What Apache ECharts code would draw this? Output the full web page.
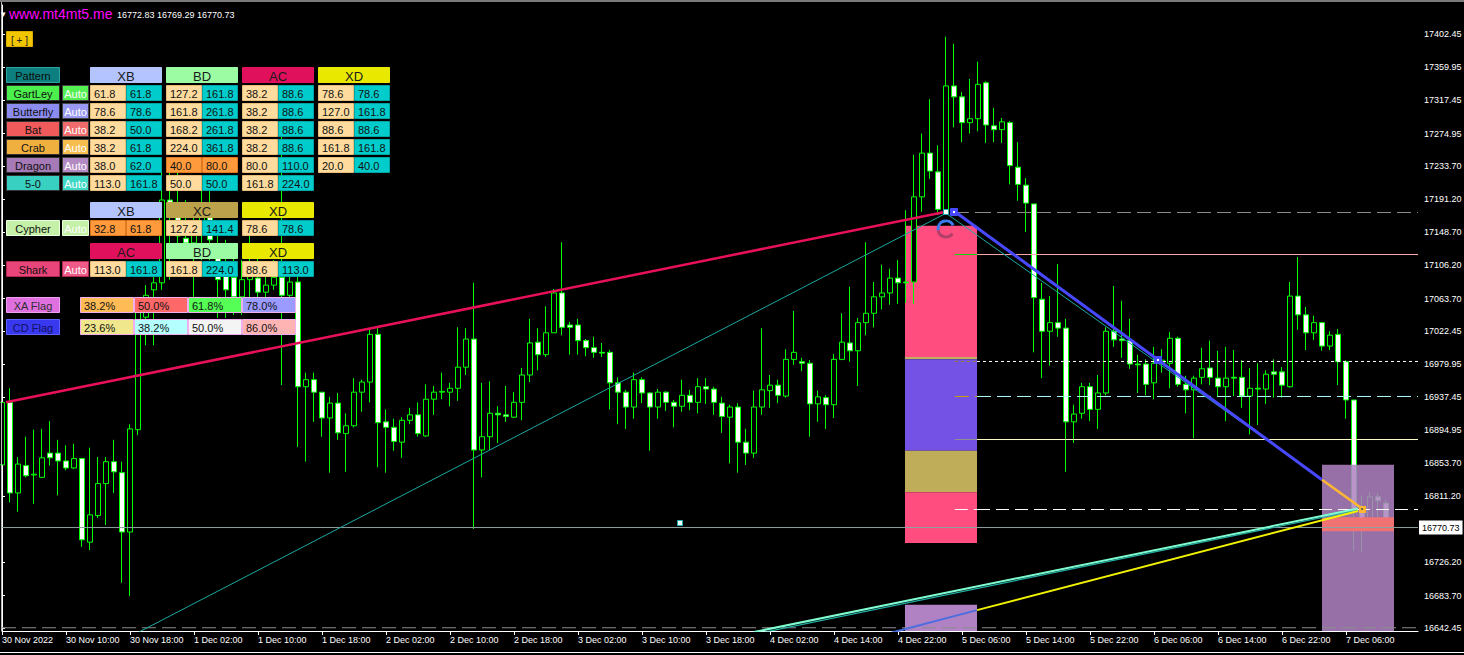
<!DOCTYPE html>
<html><head><meta charset="utf-8">
<script src="https://cdn.jsdelivr.net/npm/echarts@6/dist/echarts.min.js"></script>
<style>html,body{margin:0;padding:0;background:#000;overflow:hidden}#c{width:1464px;height:655px}</style>
</head><body><div id="c"></div>
<script>
// ================= DATA =================
const barCount = 178;
const categories = Array.from({length: barCount}, (_, i) => 'bar' + i);
const xTickBars = [0,8,16,24,32,40,48,56,64,72,80,88,96,104,112,120,128,136,144,152,160,168];
const xTickLabels = ['30 Nov 2022','30 Nov 10:00','30 Nov 18:00','1 Dec 02:00','1 Dec 10:00','1 Dec 18:00',
  '2 Dec 02:00','2 Dec 10:00','2 Dec 18:00','3 Dec 02:00','3 Dec 10:00','3 Dec 18:00','4 Dec 02:00',
  '4 Dec 14:00','4 Dec 22:00','5 Dec 06:00','5 Dec 14:00','5 Dec 22:00','6 Dec 06:00','6 Dec 14:00',
  '6 Dec 22:00','7 Dec 06:00'];
const yTickValues = [17402.45,17359.95,17317.45,17274.95,17233.70,17191.20,17148.70,17106.20,17063.70,
  17022.45,16979.95,16937.45,16894.95,16853.70,16811.20,16726.20,16683.70,16642.45];
const yMin = 16638.3, yMax = 17439.6;
const captionPrices = [16772.83, 16769.29, 16770.73];

const candleOpen = [16851,16931,16815,16850,16838,16835,16866,16866,16856,16847,16859,16752,16786,16827,16855,16841,16765,16896,17040,17075,
 17084,17190,17171,17141,17135,17152,17171,17126,17100,17091,17066,17088,17090,17072,17081,17091,17068,17085,16951,16960,
 16944,16911,16930,16891,16901,16944,16957,17018,16906,16899,16880,16908,16915,16888,16935,16944,16944,16949,16976,17012,
 16870,16887,16917,16915,16912,16931,16966,17008,16992,17020,17071,17030,17030,17010,17001,16995,16995,16956,16944,16925,
 16960,16943,16925,16944,16931,16926,16940,16931,16951,16948,16930,16912,16925,16880,16866,16925,16946,16953,16939,16986,
 16983,16981,16929,16937,16928,16986,17007,16997,17033,17045,17066,17071,17090,17085,17085,17194,17250,17226,17177,17336,
 17322,17289,17294,17340,17285,17280,17289,17232,17209,17185,17063,17022,17033,17026,16906,16917,16951,16922,16943,17022,
 17012,17010,16980,16980,16956,16981,16981,17013,16954,16947,16963,16975,16962,16951,16963,16963,16939,16949,16948,16970,
 16970,16951,17067,17043,17020,17033,17003,17018,16983,16934,16793,16774,16810,16802];
const candleHigh = [17049,16949,16861,16887,16896,16897,16907,16883,16876,16878,16860,16873,16861,16861,16883,16855,16903,17062,17081,17100,
 17237,17228,17235,17190,17177,17216,17203,17164,17139,17126,17113,17152,17126,17100,17113,17276,17100,17107,16969,16969,
 16944,16938,16943,16917,16962,16960,17026,17026,16922,16910,16912,16924,16931,16954,16952,16969,16956,17027,17026,17084,
 16956,16958,16926,16952,16944,16975,17038,17026,17054,17076,17136,17034,17038,17012,17015,17007,16998,16963,16947,16969,
 16963,16944,16948,16945,16934,16960,16947,16962,16962,16951,16938,16928,16930,16897,16946,17026,16966,16960,16999,17048,
 16988,16985,16946,16940,16993,17045,17079,17039,17136,17085,17107,17102,17113,17177,17248,17275,17319,17260,17399,17390,
 17328,17345,17367,17342,17308,17295,17291,17264,17218,17185,17084,17067,17108,17038,16928,16956,16956,16966,17027,17080,
 17061,17038,16992,16986,17002,16999,17021,17015,16965,16965,17001,17010,16997,17002,16998,16985,16975,16981,16972,16986,
 16976,17085,17117,17053,17042,17034,17022,17025,16985,16934,16812,16816,16815,16806];
const candleLow = [16844,16803,16791,16835,16801,16834,16850,16812,16844,16846,16746,16742,16783,16774,16815,16700,16683,16889,17004,17004,
 17075,17088,17132,17126,17066,17113,17113,17039,17039,17043,17043,17066,17062,17062,17075,16953,17066,16874,16855,16906,
 16887,16841,16883,16842,16899,16919,16931,16848,16841,16869,16860,16903,16887,16887,16915,16935,16926,16933,16966,16769,
 16835,16870,16879,16906,16911,16908,16957,16972,16989,17020,17017,16992,16992,16990,16988,16989,16922,16903,16897,16910,
 16930,16869,16910,16920,16899,16919,16921,16917,16929,16915,16892,16853,16841,16851,16860,16915,16924,16930,16937,16979,
 16971,16887,16906,16897,16911,16985,16983,16952,17017,17027,17050,17056,17057,17058,17057,17175,17217,17171,17175,17283,
 17264,17275,17278,17263,17264,17263,17210,17189,17149,16995,16962,16978,17015,16842,16879,16910,16907,16897,16940,17002,
 16988,16974,16943,16940,16935,16969,16949,16951,16917,16885,16954,16953,16938,16907,16939,16924,16890,16902,16929,16937,
 16937,16950,17024,16998,17011,16997,16998,16953,16910,16741,16739,16771,16770,16768];
const candleClose = [16931,16815,16852,16837,16839,16860,16860,16856,16847,16859,16755,16787,16827,16855,16842,16765,16897,17049,17068,17084,
 17190,17177,17144,17135,17152,17171,17139,17088,17075,17066,17088,17107,17072,17081,17091,17068,17085,16951,16960,16944,
 16911,16930,16892,16901,16944,16957,17018,16905,16899,16881,16908,16915,16891,16935,16944,16945,16949,16976,17012,16870,
 16887,16917,16915,16913,16931,16966,17007,16992,17020,17071,17027,17027,17010,17001,16995,16994,16956,16944,16925,16960,
 16943,16925,16944,16931,16926,16940,16931,16951,16948,16931,16913,16925,16880,16866,16925,16947,16953,16940,16986,16995,
 16981,16929,16938,16928,16986,17008,16997,17033,17045,17066,17071,17090,17084,17084,17194,17250,17227,17178,17336,17322,
 17289,17294,17338,17286,17280,17290,17234,17210,17186,17065,17022,17033,17026,16906,16916,16951,16922,16943,17022,17011,
 17010,16980,16979,16954,16981,16985,17013,16954,16947,16962,16974,16963,16951,16962,16962,16939,16949,16948,16967,16967,
 16953,17067,17043,17020,17033,17003,17017,16983,16934,16793,16774,16810,16805,16770.73];
const bidPrice = 16770.73;
const floorLevel = 16642.45;

// pattern zones (bar-index span, price span)
const zoneStart = [112.875,112.875,112.875,112.875,112.875,112.875,165,165];
const zoneEnd   = [121.875,121.875,121.875,121.875,121.875,121.875,174,174];
const zoneLow   = [16989,16986,16869,16816,16751,yMin,yMin,16766];
const zoneHigh  = [17157,16989,16986,16869,16816,16672,16851,16784];

// horizontal levels of the detected pattern
const levelPrices = [17174.0,17120.2,16983.3,16938.5,16883.4,16793.8];
const levelFromBar = 119.1, levelSplitBar = 121.875, levelToBar = 177;

// trend lines (bar index, price)
const crimsonLine = [[0.5,16931],[118,17175]];
const tealUpLine = [[16,16631],[118,17173]];
const tealDownLine = [[118,17173],[160,16869]];
const blueDownLine = [[119,17176],[165,16832]];
const blueTailLine = [[165,16832],[170,16795]];
const aquaLine = [[94,16637],[169.5,16795]];
const aquaShadowLine = [[94,16634],[169.5,16793]];
const yellowHeadLine = [[110,16633],[121.875,16665]];
const yellowLine = [[121.875,16665],[169.5,16792]];
const pointMarkers = [[118,17175],[119,17175],[144.5,16985],[170,16794],[84.7,16777]];
const arcCenter = [118,17153];

// pattern table
const patternNames = ['GartLey','Butterfly','Bat','Crab','Dragon','5-0'];
const xbRange = [[61.8,61.8],[78.6,78.6],[38.2,50.0],[38.2,61.8],[38.0,62.0],[113.0,161.8]];
const bdRange = [[127.2,161.8],[161.8,261.8],[168.2,261.8],[224.0,361.8],[40.0,80.0],[50.0,50.0]];
const acRange = [[38.2,88.6],[38.2,88.6],[38.2,88.6],[38.2,88.6],[80.0,110.0],[161.8,224.0]];
const xdRange = [[78.6,78.6],[127.0,161.8],[88.6,88.6],[161.8,161.8],[20.0,40.0],null];
const cypherXB = [32.8,61.8], cypherXC = [127.2,141.4], cypherXD = [78.6,78.6];
const sharkAC = [113.0,161.8], sharkBD = [161.8,224.0], sharkXD = [88.6,113.0];
const xaFlagLevels = [38.2,50.0,61.8,78.0];
const cdFlagLevels = [23.6,38.2,50.0,86.0];

// ================= STYLE =================
const FONT = '"Liberation Sans", Arial, sans-serif';
const zoneColors = ['#ff4d80','#c4ad5c','#7452e6','#bfad5a','#ff4d80','#b082c4','#b082c4','#f07272'];
const zoneZ = [1,1,1,1,1,1,3,3];
const zoneOpacity = [1,1,1,1,1,1,0.86,1];
const levelHeadColor = ['#8c8c8c','#00e000','#a08020','#c8a000','#909090','#ffffff'];
const levelMainColor = ['#8c8c8c','#ffa8a8','#ffffff','#b0ffff','#ffffc8','#ffffff'];
const levelType = [[14,6],'solid',[3,3],[14,6],'solid',[13,6]];
const markerFill = ['#ffffff','#4848ff','#4848ff','#ffb830','#ffffff'];
const markerStroke = ['#20b0b0','#4848ff','#4848ff','#ffb830','#20b0b0'];
const markerInner = [null,'#ffffff','#ffffff','#6a6a50',null];
const markerSize = [6,8,8,7,6];

const tickMap = {};
xTickBars.forEach((b, k) => { tickMap[b] = xTickLabels[k]; });

const candleData = candleOpen.map((o, i) => [o, candleClose[i], candleLow[i], candleHigh[i]]);

function lineSeries(data, color, width, type, z) {
  return {type:'line', xAxisIndex:1, yAxisIndex:0, data, showSymbol:false, symbol:'none', silent:true,
    lineStyle:{color, width, type: type || 'solid'}, z: z || 5, animation:false};
}

const series = [];
for (let i = 0; i < zoneStart.length; i++) {
  series.push({
    type:'custom', xAxisIndex:1, yAxisIndex:0, z: zoneZ[i], silent:true,
    data:[[zoneStart[i], zoneEnd[i], zoneLow[i], zoneHigh[i]]],
    renderItem: (params, api) => {
      const a = api.coord([api.value(0), api.value(3)]);
      const b = api.coord([api.value(1), api.value(2)]);
      return {type:'rect', shape:{x:a[0], y:a[1], width:b[0]-a[0], height:b[1]-a[1]},
        style:{fill: zoneColors[i], opacity: zoneOpacity[i]}};
    }
  });
}
series.push({
  type:'candlestick', xAxisIndex:0, yAxisIndex:0, data: candleData, barWidth:5, z:2, silent:true,
  itemStyle:{color:'#000000', color0:'#ffffff', borderColor:'#00ff00', borderColor0:'#00ff00', borderWidth:1}
});
series.push(lineSeries([[0,floorLevel],[177,floorLevel]], '#8c8c8c', 1, [14,6], 4));
const bidLine = lineSeries([[0,bidPrice],[177,bidPrice]], '#8fa0a0', 1, 'solid', 4);
bidLine.endLabel = {show:true, formatter: () => bidPrice.toFixed(2), color:'#000', backgroundColor:'#ffffff',
  padding:[3,3,2,3], fontSize:9, fontFamily:FONT, distance:1};
series.push(bidLine);
levelPrices.forEach((p, i) => {
  series.push(lineSeries([[levelFromBar,p],[levelSplitBar,p]], levelHeadColor[i], 1, levelType[i], 4));
  series.push(lineSeries([[levelSplitBar,p],[levelToBar,p]], levelMainColor[i], 1, levelType[i], 4));
});
series.push(lineSeries(tealUpLine, '#1aa8a0', 1, 'solid', 5));
series.push(lineSeries(tealDownLine, '#1aa8a0', 1, 'solid', 5));
series.push(lineSeries(crimsonLine, '#e8105a', 2.5, 'solid', 5));
series.push(lineSeries(aquaShadowLine, '#20b0a8', 1.2, 'solid', 5));
series.push(lineSeries(aquaLine, '#7fffd0', 2, 'solid', 5));
series.push(lineSeries(yellowHeadLine, '#4a6ee0', 2, 'solid', 5));
series.push(lineSeries(yellowLine, '#f2f200', 2, 'solid', 5));
series.push(lineSeries(blueDownLine, '#4848ff', 3, 'solid', 6));
series.push(lineSeries(blueTailLine, '#ffb830', 2.5, 'solid', 6));
series.push({
  type:'custom', xAxisIndex:1, yAxisIndex:0, z:7, silent:true, data: pointMarkers,
  renderItem: (params, api) => {
    const i = params.dataIndex;
    const c = api.coord([api.value(0), api.value(1)]);
    const s = markerSize[i];
    const children = [{type:'rect', shape:{x:Math.round(c[0]-s/2)+0.5, y:Math.round(c[1]-s/2)+0.5, width:s-1, height:s-1},
      style:{fill: markerFill[i], stroke: markerStroke[i], lineWidth:1}}];
    if (markerInner[i]) children.push({type:'rect', shape:{x:Math.round(c[0]-1), y:Math.round(c[1]-1), width:2, height:2},
      style:{fill: markerInner[i]}});
    return {type:'group', children};
  }
});
series.push({
  type:'custom', xAxisIndex:1, yAxisIndex:0, z:7, silent:true, data:[arcCenter],
  renderItem: (params, api) => {
    const c = api.coord([api.value(0), api.value(1)]);
    return {type:'group', children:[
      {type:'arc', shape:{cx:c[0], cy:c[1], r:8, startAngle:Math.PI*0.95, endAngle:Math.PI*1.85, clockwise:true},
        style:{stroke:'#3c7cf0', lineWidth:3, fill:null}},
      {type:'arc', shape:{cx:c[0], cy:c[1], r:8, startAngle:Math.PI*0.2, endAngle:Math.PI*0.95, clockwise:true},
        style:{stroke:'#b04068', lineWidth:3, fill:null}}
    ]};
  }
});

// ================= TABLE (graphic) =================
const G = [];
function txt(x, y, text, color, size, align, z) {
  G.push({type:'text', x, y, z: z || 101, silent:true,
    style:{text, fill:color, fontSize:size, fontFamily:FONT, align, verticalAlign:'middle',
      textAlign:align, textVerticalAlign:'middle'}});
}
function cell(x, y, w, h, fill, stroke, text, color, align, size) {
  G.push({type:'rect', shape:{x:x+0.5, y:y+0.5, width:w-1, height:h-1}, style:{fill, stroke, lineWidth:1}, z:100, silent:true});
  if (text !== undefined && text !== null) {
    const left = align === 'left';
    txt(left ? x+4 : x+w/2, y+h/2+1, text, color, size || 11, left ? 'left' : 'center');
  }
}
const PEACH = '#ffdb9e', PEACH_S = '#e9bd78', TURQ = '#00cccc', TURQ_S = '#00a4a4', ORANGE = '#ff9a3c', ORANGE_S = '#e07a20';
const HDR = {XB:'#b4c4ff', BD:'#9cfca4', AC:'#e0105c', XD:'#e8e800', XC:'#bca24a'};
const patternColor = ['#4cf04c','#8c8cf0','#f05a5a','#f0b040','#a67ab6','#38d0c0'];
const autoColor = ['#54f054','#9a9af2','#f06c6c','#f6be4e','#b48ac4','#40d8c6'];
const H = 16;
function header(x, y, name) { cell(x, y, 72, H, HDR[name], HDR[name], name, '#1a1a1a', 'center', 13); }
function pair(x, y, vals, c1, c2) {
  if (!vals) return;
  cell(x, y, 36, H, c1 || PEACH, c1 ? ORANGE_S : PEACH_S, vals[0].toFixed(1), '#111', 'left', 11);
  cell(x+36, y, 36, H, c2 || TURQ, c2 ? ORANGE_S : TURQ_S, vals[1].toFixed(1), '#111', 'left', 11);
}
cell(6, 31, 27, H, '#f2c600', '#d9ad00', '[ + ]', '#222', 'center', 10);
cell(6, 67, 54, H, '#0d7f7f', '#2aa6a6', 'Pattern', '#0a0a0a', 'center', 11);
header(90, 67, 'XB'); header(166, 67, 'BD'); header(242, 67, 'AC'); header(318, 67, 'XD');
patternNames.forEach((n, i) => {
  const y = 85 + 18*i;
  cell(6, y, 54, H, patternColor[i], '#333', n, '#111', 'center', 11);
  cell(62, y, 27, H, autoColor[i], '#444', 'Auto', '#ffffff', 'center', 11);
  pair(90, y, xbRange[i]);
  if (n === 'Dragon') pair(166, y, bdRange[i], ORANGE, ORANGE); else pair(166, y, bdRange[i]);
  pair(242, y, acRange[i]);
  pair(318, y, xdRange[i]);
});
header(90, 202, 'XB'); header(166, 202, 'XC'); header(242, 202, 'XD');
cell(6, 220, 54, H, '#c4f0a8', '#e8ffe0', 'Cypher', '#111', 'center', 11);
cell(62, 220, 27, H, '#c4f0a8', '#e8ffe0', 'Auto', '#ffffff', 'center', 11);
pair(90, 220, cypherXB, ORANGE, ORANGE); pair(166, 220, cypherXC); pair(242, 220, cypherXD);
header(90, 243, 'AC'); header(166, 243, 'BD'); header(242, 243, 'XD');
cell(6, 261, 54, H, '#e8457a', '#b02850', 'Shark', '#111', 'center', 11);
cell(62, 261, 27, H, '#ee5a88', '#b02850', 'Auto', '#ffffff', 'center', 11);
pair(90, 261, sharkAC); pair(166, 261, sharkBD); pair(242, 261, sharkXD);
const xaColors = ['#ffbb55','#ff6868','#55ff55','#9a9aff'];
const cdColors = ['#f0e68c','#b4ffff','#f4f4f4','#ffb4b4'];
cell(6, 297, 54, H, '#e070e0', '#f0a0f0', 'XA Flag', '#303030', 'center', 11);
cell(6, 319, 54, H, '#3838ee', '#6060ff', 'CD Flag', '#101060', 'center', 11);
xaFlagLevels.forEach((v, k) => cell(80+54*k, 297, 54, H, xaColors[k], '#f0b0f0', v.toFixed(1)+'%', '#111', 'left', 11));
cdFlagLevels.forEach((v, k) => cell(80+54*k, 319, 54, H, cdColors[k], '#f0b0f0', v.toFixed(1)+'%', '#111', 'left', 11));
// caption: menu glyph, magenta watermark, then the price readout
txt(1, 14, '\u25BE', '#ffffff', 9, 'left', 101);
txt(9, 14, 'www.mt4mt5.me', '#ff00ff', 14, 'left', 102);
txt(117, 15, captionPrices.map(v => v.toFixed(2)).join(' '), '#ffffff', 9, 'left', 101);
G.push({type:'rect', shape:{x:0, y:0, width:1464, height:2}, style:{fill:'#7a7a7a'}, z:90, silent:true});
G.push({type:'line', shape:{x1:1.5, y1:2, x2:1.5, y2:631}, style:{stroke:'#b8b8b8', lineWidth:1}, z:90, silent:true});
G.push({type:'line', shape:{x1:0, y1:652.5, x2:1464, y2:652.5}, style:{stroke:'#ffffff', lineWidth:1}, z:90, silent:true});

// ================= CHART =================
const chart = echarts.init(document.getElementById('c'), null, {renderer:'svg', width:1464, height:655});
chart.setOption({
  backgroundColor:'#000000',
  animation:false,
  grid:{left:2, right:46, top:5, bottom:24, containLabel:false, outerBoundsMode:'none'},
  xAxis:[{
    type:'category', data:categories, boundaryGap:false,
    axisLine:{show:true, lineStyle:{color:'#ffffff', width:1}},
    axisTick:{show:true, interval:(i) => tickMap[i] !== undefined, length:4, lineStyle:{color:'#ffffff'}},
    axisLabel:{show:true, interval:(i) => tickMap[i] !== undefined, formatter:(v, i) => tickMap[i] || '',
      color:'#ffffff', fontSize:9, fontFamily:FONT, align:'left', margin:4},
    splitLine:{show:false}
  },{
    type:'value', min:0, max:177, show:false, splitLine:{show:false}
  }],
  yAxis:[{
    type:'value', position:'right', min:yMin, max:yMax, scale:true,
    axisLine:{show:true, lineStyle:{color:'#ffffff', width:1}},
    axisTick:{show:true, customValues:yTickValues, length:3, lineStyle:{color:'#ffffff'}},
    axisLabel:{show:true, customValues:yTickValues, formatter:(v) => Number(v).toFixed(2),
      color:'#ffffff', fontSize:9, fontFamily:FONT, margin:6},
    splitLine:{show:false}
  }],
  series,
  graphic:{elements:G}
});
</script>
</body></html>
